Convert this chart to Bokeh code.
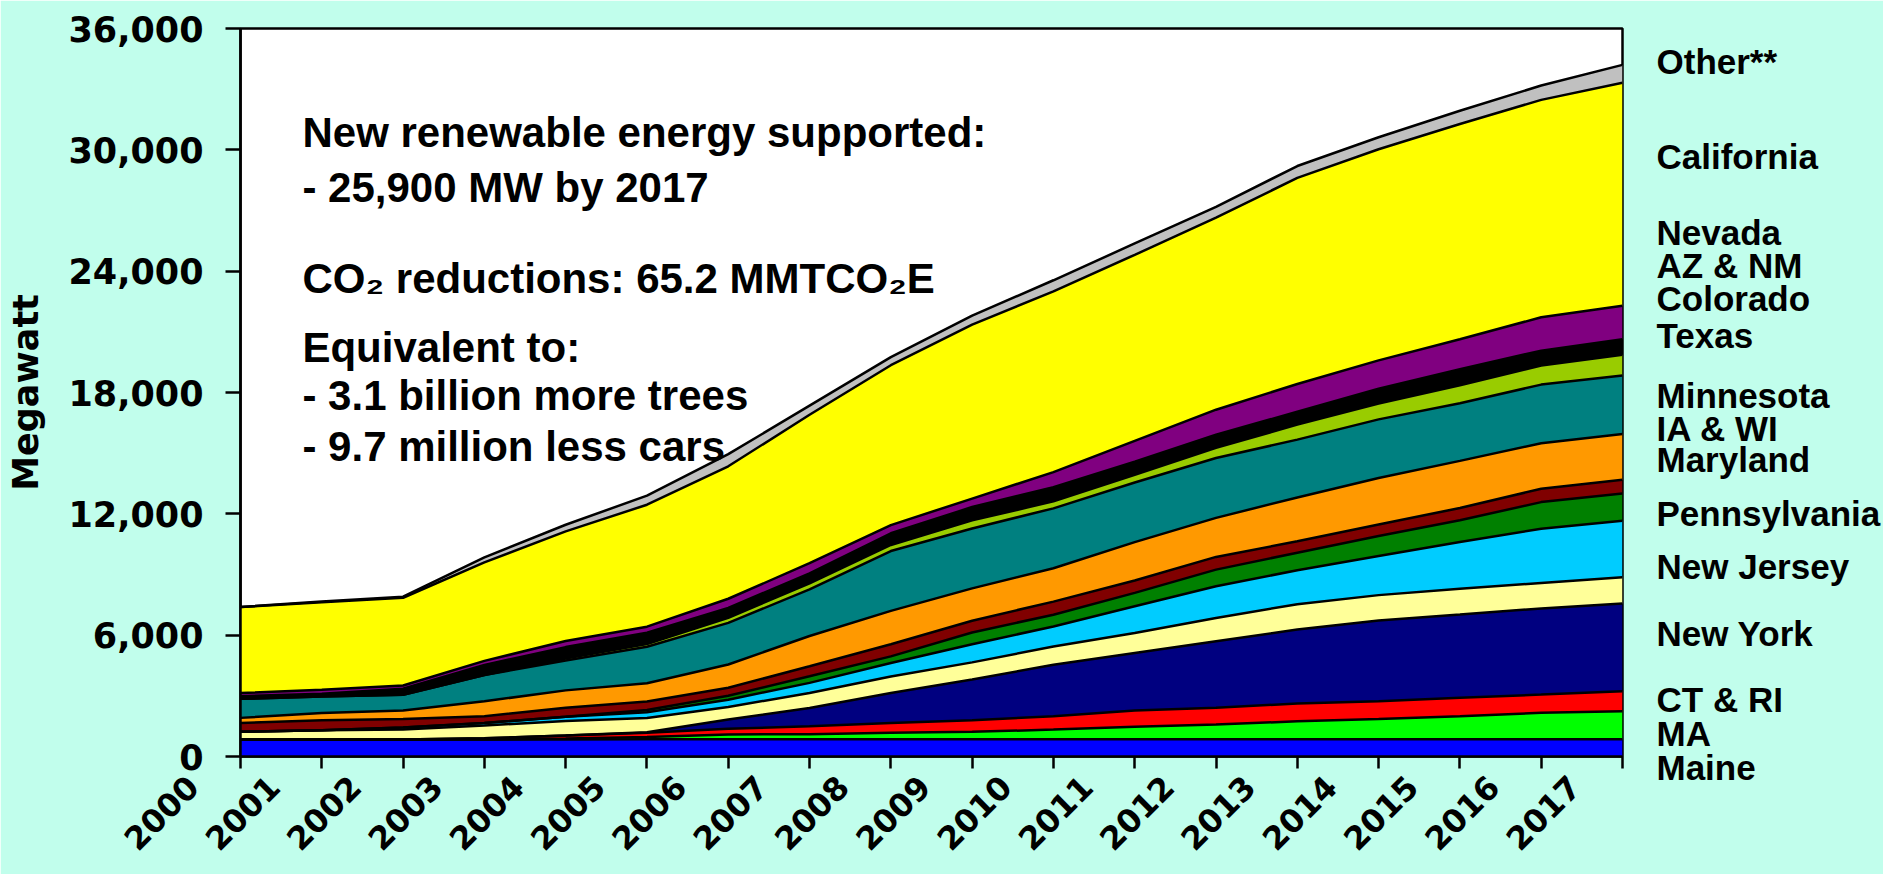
from math import pi
from bokeh.plotting import figure
from bokeh.models import (Range1d, FixedTicker, NumeralTickFormatter, Label, ColumnDataSource,
                          LinearAxis, CustomJSTickFormatter)
from bokeh.embed import file_html
from bokeh.resources import INLINE

# ---------------- data (MW, stacked bottom -> top) ----------------
years = list(range(2000, 2018))
maine      = [840, 840, 840, 840, 840, 850, 850, 850, 850, 850, 850, 850, 850, 850, 850, 850, 850, 850]
ma         = [0, 0, 0, 0, 50, 120, 240, 250, 320, 370, 480, 625, 730, 890, 1010, 1140, 1310, 1390]
ct_ri      = [0, 0, 0, 60, 150, 200, 280, 400, 490, 575, 660, 805, 830, 880, 870, 910, 900, 990]
new_york   = [0, 0, 0, 0, 0, 30, 460, 900, 1480, 2010, 2550, 2840, 3290, 3660, 4000, 4120, 4260, 4330]
new_jersey = [380, 460, 490, 630, 720, 700, 620, 740, 820, 850, 900, 990, 1150, 1250, 1250, 1280, 1260, 1300]
pennsylvania = [0, 0, 110, 130, 200, 290, 360, 500, 660, 900, 990, 1320, 1570, 1680, 1930, 2310, 2680, 2800]
maryland   = [0, 0, 0, 0, 0, 110, 190, 330, 330, 580, 580, 660, 820, 870, 990, 1070, 1320, 1340]
ia_wi      = [440, 490, 410, 330, 450, 420, 400, 490, 600, 580, 650, 610, 630, 560, 570, 610, 660, 690]
minnesota  = [250, 360, 430, 740, 860, 900, 1150, 1500, 1650, 1600, 1650, 1900, 1930, 2170, 2300, 2330, 2250, 2260]
texas      = [940, 820, 770, 1300, 1480, 1810, 2060, 2300, 2960, 2960, 2960, 2950, 2960, 2860, 2900, 2850, 2900, 2890]
colorado   = [0, 0, 0, 0, 100, 130, 250, 300, 300, 400, 350, 380, 500, 740, 780, 890, 940, 1030]
az_nm      = [130, 130, 300, 500, 560, 560, 490, 500, 580, 660, 700, 650, 650, 640, 740, 790, 740, 770]
nevada     = [160, 200, 160, 200, 300, 300, 450, 500, 400, 420, 740, 1030, 1240, 1370, 1400, 1480, 1650, 1650]
california = [4250, 4330, 4340, 4870, 5420, 6030, 6550, 7340, 7910, 8600, 8940, 9200, 9500, 10190, 10440, 10650, 10750, 11030]
other      = [0, 40, 50, 250, 330, 450, 600, 450, 400, 450, 550, 560, 530, 590, 590, 650, 710, 880]

series_names = ["Maine", "MA", "CT & RI", "New York", "New Jersey", "Pennsylvania", "Maryland",
                "IA & WI", "Minnesota", "Texas", "Colorado", "AZ & NM", "Nevada", "California", "Other**"]
series_values = [maine, ma, ct_ri, new_york, new_jersey, pennsylvania, maryland,
                 ia_wi, minnesota, texas, colorado, az_nm, nevada, california, other]
colors = ["#0000FF", "#00FF00", "#FF0000", "#000080", "#FFFF99", "#00CCFF", "#008000",
          "#800000", "#FF9900", "#008080", "#99CC00", "#000000", "#800080", "#FFFF00", "#C0C0C0"]

y_ticks = [0, 6000, 12000, 18000, 24000, 30000, 36000]

annotation_lines = ["New renewable energy supported:",
                    "- 25,900 MW by 2017",
                    "CO\u2082 reductions: 65.2 MMTCO\u2082E",
                    "Equivalent to:",
                    "- 3.1 billion more trees",
                    "- 9.7 million less cars"]

# right-hand series labels (top -> bottom); the last two share one tick
right_labels = ["Other**", "California", "Nevada", "AZ & NM", "Colorado", "Texas", "Minnesota",
                "IA & WI", "Maryland", "Pennsylvania", "New Jersey", "New York", "CT & RI",
                "MA\nMaine"]

# ---------------- layout (pixels) ----------------
W, H = 1883, 874
FL, FR, FT, FB = 240, 1623, 28, 757
BG = "#C1FEEC"

keys = ["s%d" % i for i in range(len(series_names))]
data = {"year": years}
for k, v in zip(keys, series_values):
    data[k] = v
src = ColumnDataSource(data)


def px_x(px):
    return years[0] + (px - FL) / (FR - FL) * (years[-1] - years[0])


def px_y(py):
    return y_ticks[0] + (FB - py) / (FB - FT) * (y_ticks[-1] - y_ticks[0])


p = figure(width=W, height=H, output_backend="svg", toolbar_location=None,
           x_range=Range1d(years[0], years[-1]), y_range=Range1d(y_ticks[0], y_ticks[-1]),
           min_border_left=FL, min_border_right=W - FR, min_border_top=FT,
           min_border_bottom=H - FB)
p.border_fill_color = BG
p.background_fill_color = "white"
p.outline_line_color = "black"
p.outline_line_width = 2.5
p.xgrid.visible = False
p.ygrid.visible = False

p.varea_stack(stackers=keys, x="year", color=colors, source=src)
p.vline_stack(stackers=keys, x="year", color="black", line_width=2.5, source=src)

# y axis
ya = p.yaxis[0]
ya.axis_line_width = 2.5
ya.major_tick_line_width = 2.5
ya.major_tick_in = 0
ya.major_tick_out = 15
ya.minor_tick_line_color = None
ya.ticker = FixedTicker(ticks=y_ticks)
ya.formatter = NumeralTickFormatter(format="0,0")
ya.major_label_standoff = 22
ya.major_label_text_font = "DejaVu Sans"
ya.major_label_text_font_style = "bold"
ya.major_label_text_font_size = "35px"
ya.major_label_text_color = "black"
ya.axis_label = "Megawatt"
ya.axis_label_text_font = "DejaVu Sans"
ya.axis_label_text_font_style = "bold"
ya.axis_label_text_font_size = "35px"
ya.axis_label_text_color = "black"
ya.axis_label_standoff = 19

# x axis: year labels rotated, set back from the tick like the original category labels
xa = p.xaxis[0]
xa.axis_line_width = 2.5
xa.major_tick_line_width = 2.5
xa.major_tick_in = 0
xa.major_tick_out = 12
xa.minor_tick_line_color = None
xa.ticker = FixedTicker(ticks=years)
xa.formatter = CustomJSTickFormatter(
    code="return String(Math.round(tick)) + '\\u00a0'.repeat(6);")
xa.major_label_orientation = pi / 4
xa.major_label_standoff = -34
xa.major_label_text_font = "DejaVu Sans"
xa.major_label_text_font_style = "bold"
xa.major_label_text_font_size = "32px"
xa.major_label_text_color = "black"

# right-hand labels as a right axis
right_centers = [61, 156, 232, 265, 298, 335, 396, 429, 460, 514, 567, 634, 700, 751]
r_ticks = [int(round(px_y(c))) for c in right_centers]
p.extra_y_ranges = {"lab": Range1d(y_ticks[0], y_ticks[-1])}
ra = LinearAxis(y_range_name="lab", ticker=FixedTicker(ticks=r_ticks),
                major_label_overrides={t: s for t, s in zip(r_ticks, right_labels)})
ra.axis_line_color = None
ra.major_tick_line_color = None
ra.minor_tick_line_color = None
ra.major_tick_in = 0
ra.major_tick_out = 0
ra.major_label_standoff = 34
ra.major_label_text_font = "Liberation Sans"
ra.major_label_text_font_style = "bold"
ra.major_label_text_font_size = "35px"
ra.major_label_text_line_height = 0.886
ra.major_label_text_color = "black"
p.add_layout(ra, "right")

# annotation block
ann_baselines = [132, 187, 278, 347, 396, 447]
for txt, b in zip(annotation_lines, ann_baselines):
    p.add_layout(Label(x=px_x(302), y=px_y(b), text=txt, text_font="Liberation Sans",
                       text_font_style="bold", text_font_size="42px", text_color="black",
                       text_baseline="alphabetic", text_align="left"))

open("out.html", "w").write(file_html(p, INLINE))
